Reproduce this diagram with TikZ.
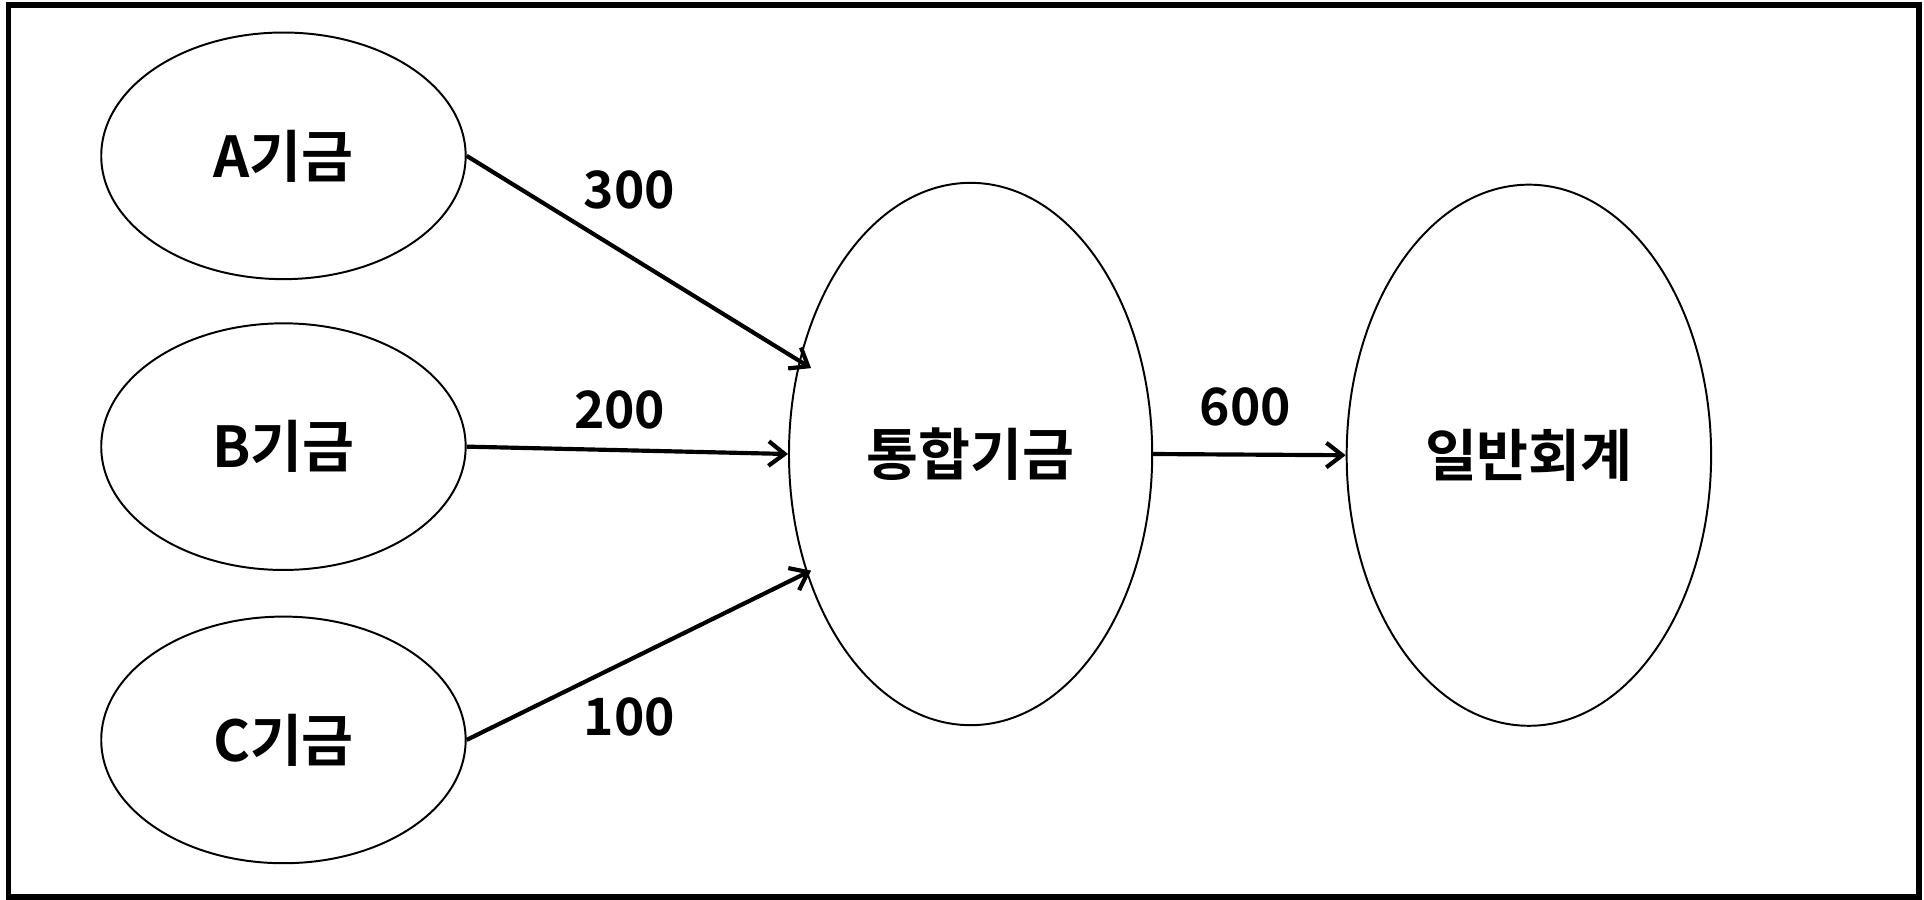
\documentclass[tikz,border=0pt]{standalone}
\usepackage{fontspec}
\setmainfont{Noto Sans CJK KR}[BoldFont={Noto Sans CJK KR Bold}]
\usetikzlibrary{shapes.geometric,arrows.meta}
\begin{document}
\begin{tikzpicture}[x=1pt,y=-1pt,
  ell/.style={draw, ellipse, line width=1.6pt, minimum width=297pt, minimum height=201pt, inner sep=0pt,
    font=\bfseries\fontsize{46}{50}\selectfont},
  flow/.style={line width=3.4pt, -{Straight Barb[length=13pt,width=20pt]}},
  num/.style={font=\bfseries\fontsize{42}{46}\selectfont, inner sep=0pt}]
\useasboundingbox (0,0) rectangle (1568,733);
\fill[white] (0,0) rectangle (1568,733);
\draw[line width=4.5pt] (7,4) rectangle (1564,731);
\node[ell] (A) at (231,127) {A기금};
\node[ell] (B) at (231,364) {B기금};
\node[ell] (C) at (231,603) {C기금};
\node[ell, minimum width=296pt, minimum height=442pt] (T) at (791,370) {통합기금};
\node[ell, minimum width=297pt, minimum height=441pt] (G) at (1246,371) {일반회계};
\coordinate (ta) at (661,300);
\coordinate (tc) at (661,465);
\draw[flow] (A.east) -- (ta);
\draw[flow] (B.east) -- (T.west);
\draw[flow] (C.east) -- (tc);
\draw[flow] (T.east) -- (G.west);
\node[num] (l300) at (513,155) {300};
\node[num] (l200) at (505,334) {200};
\node[num] (l100) at (513,584) {100};
\node[num] (l600) at (1015,332) {600};
\end{tikzpicture}
\end{document}
